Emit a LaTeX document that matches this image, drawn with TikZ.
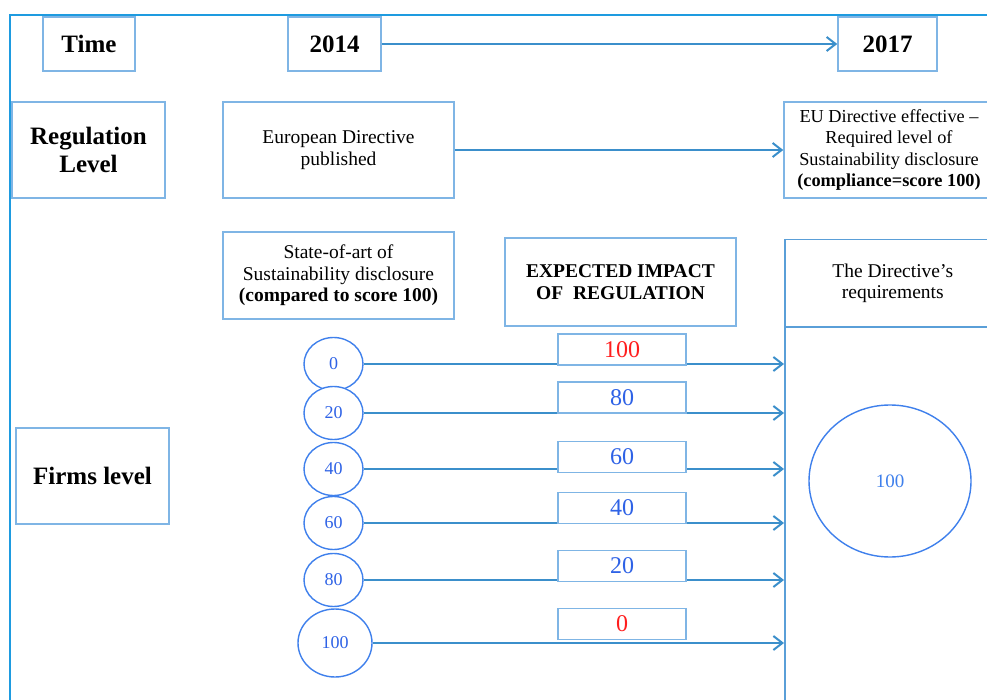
\documentclass[tikz,border=0pt]{standalone}
\usepackage{fontspec}
\setmainfont{Liberation Serif}
\usetikzlibrary{arrows.meta,shapes.geometric}
\definecolor{frameblue}{HTML}{1E9BE0}
\definecolor{boxblue}{HTML}{7FB5E5}
\definecolor{colblue}{HTML}{5A9FD8}
\definecolor{arrowblue}{HTML}{3B8FCB}
\definecolor{circblue}{HTML}{3F80EC}
\definecolor{numblue}{HTML}{2E62E6}
\definecolor{numred}{HTML}{FF1E1E}
\begin{document}
\begin{tikzpicture}[x=1pt,y=-1pt,
  bx/.style={draw=boxblue,line width=1.5pt,fill=white,inner sep=0pt,align=center},
  colbox/.style={draw=colblue,line width=1.5pt,inner sep=0pt,align=center,anchor=north west},
  big/.style={font=\fontsize{25}{28}\selectfont\bfseries},
  lab/.style={font=\fontsize{19.5}{21.5}\selectfont},
  circ/.style={ellipse,draw=circblue,line width=1.4pt,fill=white,inner sep=0pt,
     minimum width=59pt,minimum height=53pt,text=numblue,font=\fontsize{18}{20}\selectfont},
  valbox/.style={bx,minimum width=128pt,minimum height=31pt,font=\fontsize{24}{26}\selectfont},
  arr/.style={draw=arrowblue,line width=2pt,-{Straight Barb[length=9pt,width=14pt]}}
]
\useasboundingbox (0,0) rectangle (987,700);
\clip (0,0) rectangle (987,700);
\fill[white] (0,0) rectangle (987,700);

% outer frame
\draw[frameblue,line width=2pt] (10,720) -- (10,15) -- (1010,15);

% time row
\node[bx,big,minimum width=92pt,minimum height=54pt] (time) at (89,44) {Time};
\node[bx,big,minimum width=93pt,minimum height=54pt] (y2014) at (334.5,44) {2014};
\node[bx,big,minimum width=99pt,minimum height=54pt] (y2017) at (887.5,44) {2017};
\draw[arr] (y2014) -- (y2017);

% regulation row
\node[bx,big,minimum width=153pt,minimum height=96pt] (reg) at (88.5,150) {Regulation\\Level};
\node[bx,lab,minimum width=231pt,minimum height=96pt] (eudir) at (338.5,150) {European Directive\\published};
\node[bx,font=\fontsize{18.3}{21.5}\selectfont,minimum width=210pt,minimum height=96pt] (eueff) at (889,150)
  {EU Directive effective --\\Required level of\\Sustainability disclosure\\\textbf{(compliance=score 100)}};
\draw[arr] (eudir) -- (eueff);

% firms row headers
\node[bx,lab,minimum width=231pt,minimum height=87pt] (state) at (338.5,275.5)
  {State-of-art of\\Sustainability disclosure\\\textbf{(compared to score 100)}};
\node[bx,lab,font=\fontsize{19.5}{22}\selectfont\bfseries,minimum width=231pt,minimum height=88pt] (exp) at (620.5,282)
  {EXPECTED IMPACT\\OF\ \ REGULATION};
\node[bx,big,minimum width=153pt,minimum height=96pt] (firms) at (92.5,476) {Firms level};

% directive column
\node[colbox,lab,minimum width=216pt,minimum height=87pt] (hdr) at (784,239) {The Directive's\\requirements};
\node[colbox,minimum width=216pt,minimum height=400pt] (body) at (784,326) {};
\node[ellipse,draw=circblue,line width=1.4pt,inner sep=0pt,minimum width=162pt,minimum height=152pt,
  text=circblue,font=\fontsize{19}{21}\selectfont] (req) at (890,481) {100};

% firm circles
\node[circ] (c0) at (333.5,364) {0};
\node[circ] (c20) at (333.5,413) {20};
\node[circ] (c40) at (333.5,469) {40};
\node[circ] (c60) at (333.5,523) {60};
\node[circ] (c80) at (333.5,580) {80};
\node[circ,minimum width=74pt,minimum height=68pt] (c100) at (335,643) {100};

% arrows
\draw[arr] (c0.east) -- (c0 -| body.west);
\draw[arr] (c20.east) -- (c20 -| body.west);
\draw[arr] (c40.east) -- (c40 -| body.west);
\draw[arr] (c60.east) -- (c60 -| body.west);
\draw[arr] (c80.east) -- (c80 -| body.west);
\draw[arr] (c100.east) -- (c100 -| body.west);

% value boxes
\node[valbox,text=numred] (v100) at (622,349.5) {100};
\node[valbox,text=numblue] (v80) at (622,397.5) {80};
\node[valbox,text=numblue] (v60) at (622,457) {60};
\node[valbox,text=numblue] (v40) at (622,508) {40};
\node[valbox,text=numblue] (v20) at (622,566) {20};
\node[valbox,text=numred] (v0) at (622,624) {0};
\end{tikzpicture}
\end{document}
